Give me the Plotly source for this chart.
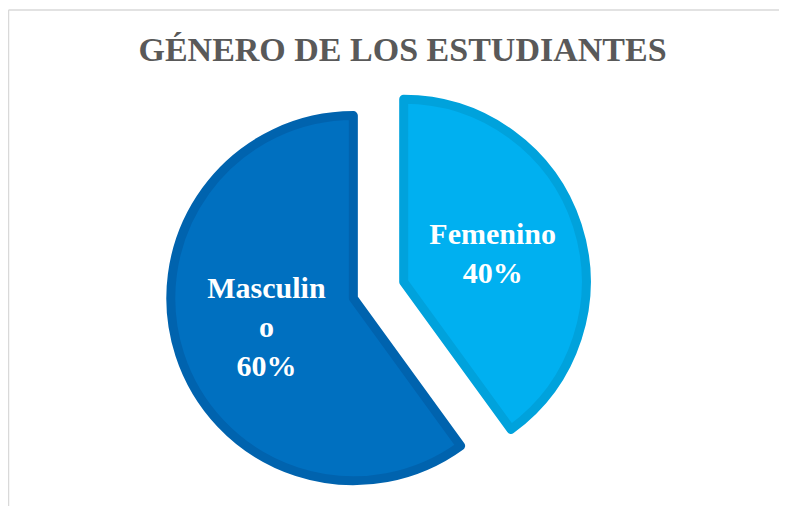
import plotly.graph_objects as go

labels = ["Femenino", "Masculino"]
values = [40, 60]
display_text = ["<b>Femenino<br>40%</b>", "<b>Masculin<br>o<br>60%</b>"]
fill_colors = ["#00B0F0", "#0070C0"]
edge_colors = ["#00A2DC", "#0063AE"]
title_text = "GÉNERO DE LOS ESTUDIANTES"

fig = go.Figure(go.Pie(
    labels=labels,
    values=values,
    text=display_text,
    textinfo="text",
    textposition="inside",
    insidetextorientation="horizontal",
    sort=False,
    direction="clockwise",
    rotation=0,
    pull=[0.145, 0.145],
    marker=dict(colors=fill_colors, line=dict(color=edge_colors, width=9)),
    textfont=dict(family="Liberation Serif, Times New Roman, serif", size=30, color="white"),
    domain=dict(x=[0.0908, 0.8508], y=[0.0297, 0.8558]),
    hoverinfo="label+percent",
    showlegend=False,
))

fig.update_layout(
    width=787, height=506,
    margin=dict(l=0, r=0, t=0, b=0),
    paper_bgcolor="white",
    plot_bgcolor="white",
    title=dict(
        text="<b>" + title_text + "</b>",
        font=dict(family="Liberation Serif, Times New Roman, serif", size=34, color="#595959"),
        x=0.5013, xanchor="center", xref="paper",
        y=0.918, yanchor="middle", yref="container",
    ),
    shapes=[
        dict(type="line", xref="paper", yref="paper",
             x0=0.5 / 787, x1=0.5 / 787, y0=-0.05, y1=1 - 2 / 506,
             line=dict(color="#D9D9D9", width=1.5), layer="below"),
        dict(type="line", xref="paper", yref="paper",
             x0=0.5 / 787, x1=1.05, y0=1 - 2 / 506, y1=1 - 2 / 506,
             line=dict(color="#D9D9D9", width=1.5), layer="below"),
    ],
)

fig.write_html("out.html")
